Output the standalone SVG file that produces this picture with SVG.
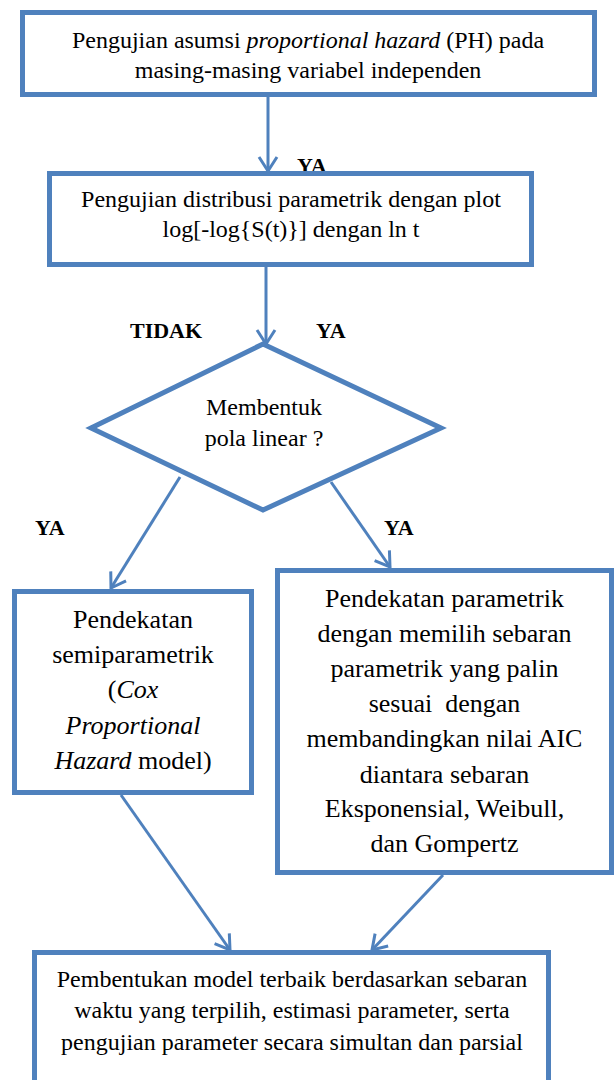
<svg xmlns="http://www.w3.org/2000/svg" width="616" height="1080" viewBox="0 0 616 1080">
<style>
.box{fill:#ffffff;stroke:#4F81BD;stroke-width:5}
.con{fill:none;stroke:#4F81BD;stroke-width:3;marker-end:url(#arr)}
.t{font-family:"Liberation Serif","Times New Roman",serif;font-size:24px;fill:#000;text-anchor:middle}
.tb{font-family:"Liberation Serif","Times New Roman",serif;font-size:26px;fill:#000;text-anchor:middle}
.lbl{font-family:"Liberation Serif","Times New Roman",serif;font-size:22px;font-weight:bold;fill:#000}
</style>
<defs>
<marker id="arr" markerUnits="userSpaceOnUse" markerWidth="24" markerHeight="24" viewBox="0 0 24 24" refX="16" refY="12" orient="auto">
<path d="M2,3 L16,12 L2,21" fill="none" stroke="#4F81BD" stroke-width="3"/>
</marker>
</defs>
<rect width="616" height="1080" fill="#ffffff"/>
<g id="connectors">
<line class="con" x1="268" y1="97" x2="268" y2="171"/>
<line class="con" x1="266" y1="267" x2="266" y2="344"/>
<line class="con" x1="180" y1="477" x2="111" y2="588"/>
<line class="con" x1="331" y1="482" x2="390" y2="567"/>
<line class="con" x1="121" y1="795" x2="230" y2="950"/>
<line class="con" x1="443" y1="875" x2="372" y2="950"/>
</g>
<g id="labels">
<text class="lbl" x="297" y="173">YA</text>
<text class="lbl" x="130" y="338">TIDAK</text>
<text class="lbl" x="316" y="338">YA</text>
<text class="lbl" x="35" y="535">YA</text>
<text class="lbl" x="384" y="535">YA</text>
</g>
<g id="node1">
<rect class="box" x="22.5" y="12.5" width="572" height="82"/>
<text class="t" x="308" y="48">Pengujian asumsi <tspan font-style="italic">proportional hazard</tspan> (PH) pada</text>
<text class="t" x="308" y="78">masing-masing variabel independen</text>
</g>
<g id="node2">
<rect class="box" x="49.5" y="173.5" width="482" height="91"/>
<text class="t" x="291" y="207">Pengujian distribusi parametrik dengan plot</text>
<text class="t" x="291" y="237">log[-log{S(t)}] dengan ln t</text>
</g>
<g id="node3">
<polygon class="box" points="263,344 441,428 263,510 91,428"/>
<text class="t" x="264" y="415">Membentuk</text>
<text class="t" x="264" y="446">pola linear ?</text>
</g>
<g id="node4">
<rect class="box" x="14.5" y="591.5" width="237" height="201"/>
<text class="tb" x="133" y="628">Pendekatan</text>
<text class="tb" x="133" y="663">semiparametrik</text>
<text class="tb" x="133" y="698">(<tspan font-style="italic">Cox</tspan></text>
<text class="tb" x="133" y="734" font-style="italic">Proportional</text>
<text class="tb" x="133" y="769"><tspan font-style="italic">Hazard</tspan> model)</text>
</g>
<g id="node5">
<rect class="box" x="277.5" y="570.5" width="334" height="302"/>
<text class="tb" x="444.5" y="607">Pendekatan parametrik</text>
<text class="tb" x="444.5" y="642">dengan memilih sebaran</text>
<text class="tb" x="444.5" y="677">parametrik yang palin</text>
<text class="tb" x="444.5" y="712" xml:space="preserve">sesuai  dengan</text>
<text class="tb" x="444.5" y="747">membandingkan nilai AIC</text>
<text class="tb" x="444.5" y="783">diantara sebaran</text>
<text class="tb" x="444.5" y="817">Eksponensial, Weibull,</text>
<text class="tb" x="444.5" y="852">dan Gompertz</text>
</g>
<g id="node6">
<rect class="box" x="34.5" y="952.5" width="514" height="160"/>
<text class="t" x="292" y="987">Pembentukan model terbaik berdasarkan sebaran</text>
<text class="t" x="292" y="1018">waktu yang terpilih, estimasi parameter, serta</text>
<text class="t" x="292" y="1050">pengujian parameter secara simultan dan parsial</text>
</g>
</svg>
